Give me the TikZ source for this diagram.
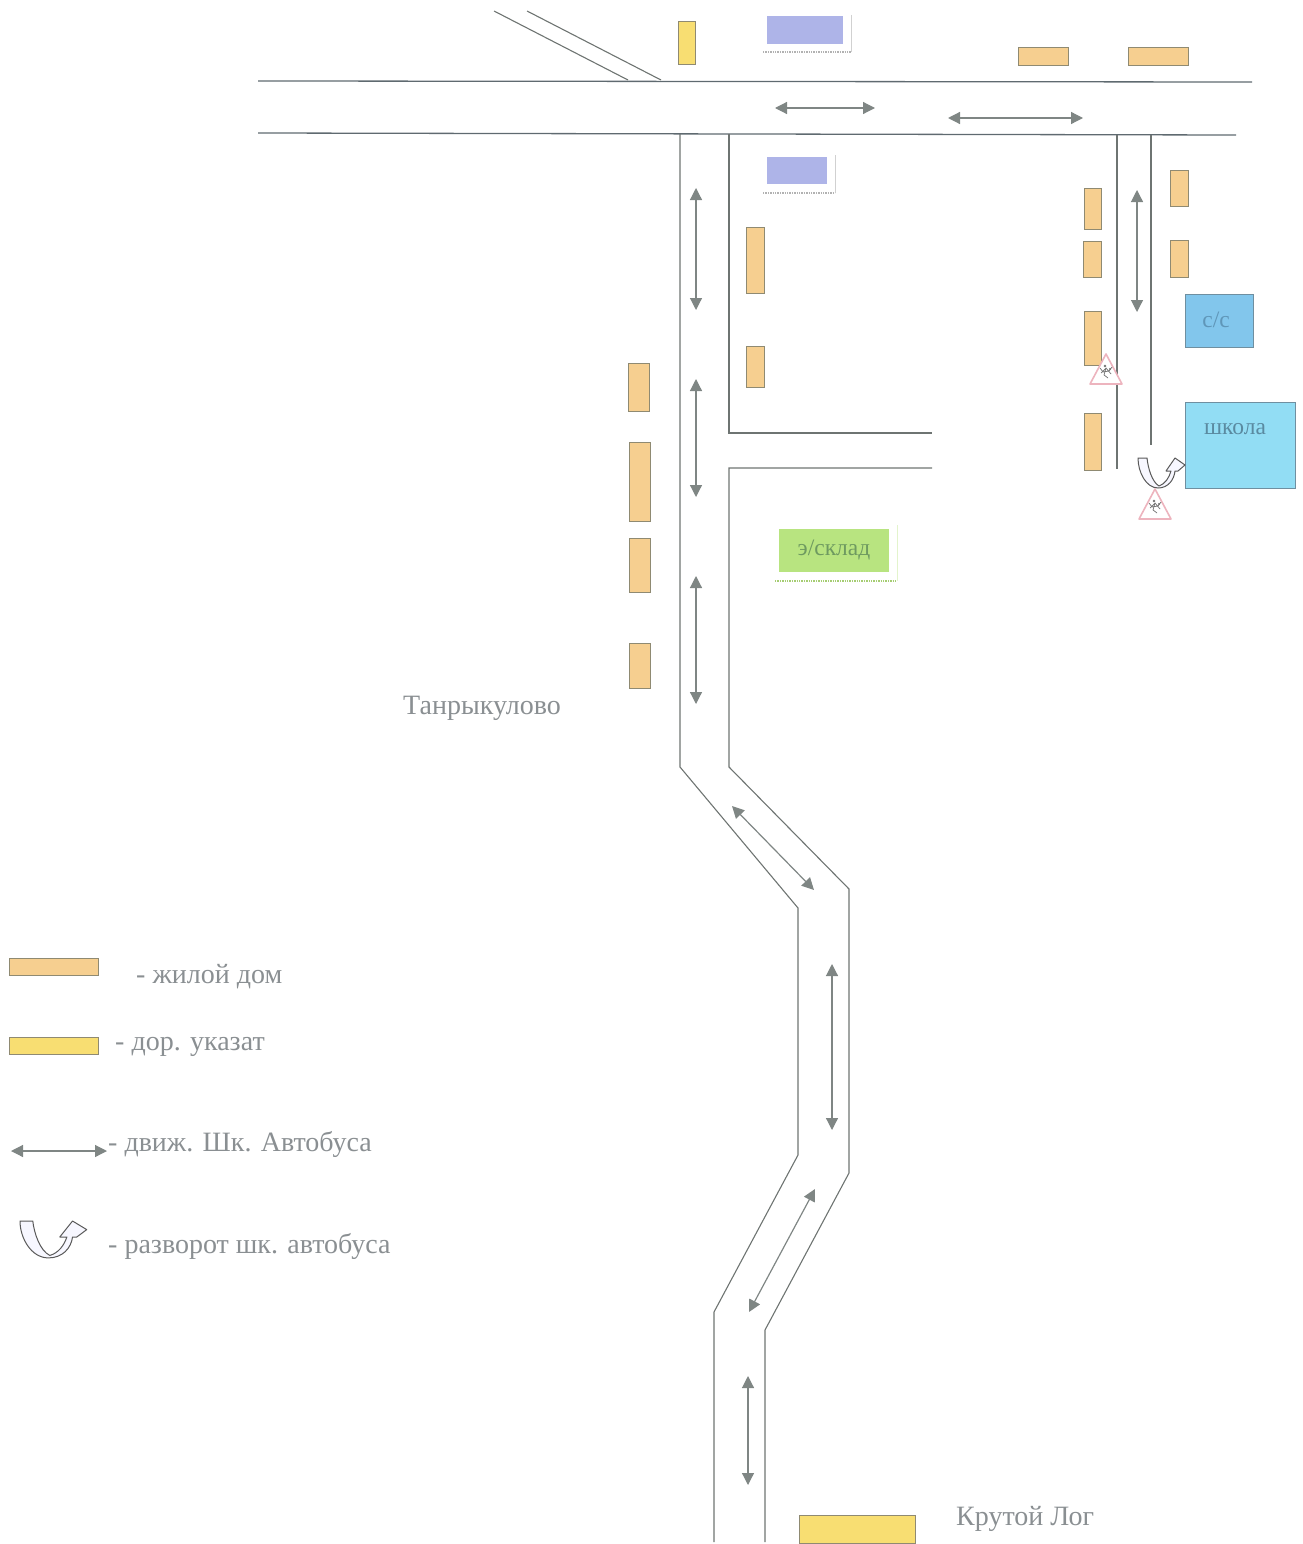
\documentclass[tikz,border=0pt]{standalone}
\usepackage{fontspec}
\setmainfont{Liberation Serif}
\usetikzlibrary{arrows.meta}
\definecolor{roadc}{HTML}{6E7472}
\definecolor{topc}{HTML}{5F6A70}
\definecolor{arrowc}{HTML}{7F8684}
\definecolor{txtc}{HTML}{8A8F92}
\definecolor{housef}{HTML}{F6CF90}
\definecolor{housed}{HTML}{8F8A72}
\definecolor{signf}{HTML}{F8DE72}
\definecolor{bluef}{HTML}{AEB4E8}
\definecolor{ccf}{HTML}{82C6EC}
\definecolor{schoolf}{HTML}{92DDF4}
\definecolor{greenf}{HTML}{B8E480}
\definecolor{edgeb}{HTML}{6F8FA0}
\definecolor{warnc}{HTML}{EDB4BE}
\definecolor{cctext}{HTML}{5F96B8}
\definecolor{schooltext}{HTML}{5A8AA0}
\definecolor{skladtext}{HTML}{6E9A60}
\tikzset{
  x=1pt,y=-1pt,
  road/.style={draw=roadc,line width=1.1pt,line join=miter},
  mainroad/.style={draw=topc,line width=1.3pt},
  housebox/.style={draw=housed,line width=1pt,fill=housef,rectangle,inner sep=0pt,anchor=north west},
  signbox/.style={draw=housed,line width=1pt,fill=signf,rectangle,inner sep=0pt,anchor=north west},
  bluebox/.style={fill=bluef,rectangle,inner sep=0pt,anchor=north west},
  ghost/.style={draw=black!18,line width=1pt},
  ghostb/.style={draw=black!30,line width=1.4pt,densely dotted},
  bus/.style={draw=arrowc,line width=1.2pt,{Triangle[width=12pt,length=12pt,fill=arrowc]}-{Triangle[width=12pt,length=12pt,fill=arrowc]}},
  lab/.style={anchor=base west,inner sep=0pt,text=txtc,font=\fontsize{28}{32}\selectfont},
  inlab/.style={inner sep=0pt,font=\fontsize{23.5}{27}\selectfont},
  uturn/.style={draw=black!65,line width=1pt,fill=blue!3,line join=round},
  warn/.style={draw=warnc,line width=1.6pt,fill=white,line join=round},
  warnfig/.style={draw=black!55,line width=.7pt}
}
\newcommand{\mybox}[6]{\node[#1,minimum width=#5-#3,minimum height=#6-#4] (#2) at (#3,#4) {};}
\newcommand{\uturnshape}[3]{%
  \begin{scope}[shift={(#1)},xscale=#2,yscale=#3]
    \path[uturn] (0,0) -- (9,0) .. controls (10,10) and (14,24) .. (21,28)
      .. controls (27,26) and (31,20) .. (33,13) -- (28,13) -- (37,0) -- (47,7) -- (40,13) -- (37,13)
      .. controls (36,22) and (30,30) .. (20,30)
      .. controls (8,30) and (0,14) .. (0,0) -- cycle;
  \end{scope}}
\newcommand{\warnsign}[1]{%
  \begin{scope}[shift={(#1)}]
    \path[warn] (0,0) -- (16,30) -- (-16,30) -- cycle;
    \draw[warnfig] (-5,19) -- (0,14) -- (5,20) (0,14) -- (-2,21) -- (2,24) (-6,14) -- (-3,18) -- (3,17) -- (6,13);
    \fill[black!55] (-1,12) circle (1.3pt) (4,15) circle (1.1pt);
  \end{scope}}
\begin{document}
\begin{tikzpicture}
\useasboundingbox (0,0) rectangle (1303,1544);
% roads
\draw[mainroad] (258,81) -- (1252,82);
\draw[mainroad] (258,133) -- (1236,135);
\draw[road] (494,11) -- (628,80);
\draw[road] (527,11) -- (661,80);
\draw[road] (680,134) -- (680,767) -- (798,908) -- (798,1155) -- (714,1312) -- (714,1542);
\draw[road] (729,134) -- (729,433) -- (932,433);
\draw[road] (932,468) -- (729,468) -- (729,767) -- (849,889) -- (849,1173) -- (765,1330) -- (765,1542);
\draw[road] (1117,135) -- (1117,469);
\draw[road] (1151,135) -- (1151,445);
% houses
\mybox{signbox}{s1}{678}{21}{695}{64}
\mybox{housebox}{h1}{1018}{47}{1068}{65}
\mybox{housebox}{h2}{1128}{47}{1188}{65}
\mybox{housebox}{h3}{746}{227}{764}{293}
\mybox{housebox}{h4}{746}{346}{764}{387}
\mybox{housebox}{h5}{628}{363}{649}{411}
\mybox{housebox}{h6}{629}{442}{650}{521}
\mybox{housebox}{h7}{629}{538}{650}{592}
\mybox{housebox}{h8}{629}{643}{650}{688}
\mybox{housebox}{h9}{1084}{188}{1101}{229}
\mybox{housebox}{h10}{1083}{241}{1101}{277}
\mybox{housebox}{h11}{1084}{311}{1101}{365}
\mybox{housebox}{h12}{1084}{413}{1101}{470}
\mybox{housebox}{h13}{1170}{170}{1188}{206}
\mybox{housebox}{h14}{1170}{240}{1188}{277}
\mybox{signbox}{s2}{799}{1515}{915}{1543}
\mybox{housebox}{lh}{9}{958}{98}{975}
\mybox{signbox}{ls}{9}{1037}{98}{1054}
% blue blocks with their shadow edges
\mybox{bluebox}{b1}{767}{16}{843}{44}
\draw[ghost] (851,15) -- (851,52);
\draw[ghostb] (763,52) -- (851,52);
\mybox{bluebox}{b2}{767}{157}{827}{184}
\draw[ghost] (835,155) -- (835,193);
\draw[ghostb] (763,193) -- (835,193);
% green block
\node[fill=greenf,inner sep=0pt,minimum width=110,minimum height=43,text=skladtext,inlab] (sklad) at (834,550.5) {э/склад};
\draw[draw=greenf!40,line width=1pt] (897,525) -- (897,581);
\draw[draw=greenf!90!black,line width=1.4pt,densely dotted] (775,581) -- (897,581);
% school and c/c
\node[draw=edgeb,line width=1pt,fill=ccf,inner sep=0pt,minimum width=68,minimum height=53] (cc) at (1219,320.5) {};
\node[inner sep=0pt,text=cctext,inlab] (cct) at (1216,320) {с/с};
\node[draw=edgeb,line width=1pt,fill=schoolf,inner sep=0pt,minimum width=110,minimum height=86] (school) at (1240,445) {};
\node[inner sep=0pt,text=schooltext,inlab] (schoolt) at (1235,429) {школа};
% bus arrows
\foreach \n/\ax/\ay/\bx/\by in {a/775/108/875/108, c/948/118/1083/118, e/696/188/696/310, g/696/379/696/497,
    i/696/576/696/704, k/732/806/814/890, m/832/964/832/1130, o/815/1189/749/1312,
    q/748/1376/748/1485, s/1137/190/1137/312, u/11/1151/107/1151}{
  \coordinate (\n1) at (\ax,\ay);
  \coordinate (\n2) at (\bx,\by);
  \draw[bus] (\n1) -- (\n2);
}
% signs and u-turn
\warnsign{1106,354}
\uturnshape{1138,458}{1}{1}
\warnsign{1155,489}
\uturnshape{20,1221}{1.42}{1.23}
% labels
\node[lab] (t1) at (403,714) {Танрыкулово};
\node[lab] (t2) at (956,1525) {Крутой Лог};
\node[lab] (l1) at (136,983) {- жилой дом};
\node[lab] (l2) at (115,1050) {- дор. указат};
\node[lab] (l3) at (108,1151) {- движ. Шк. Автобуса};
\node[lab] (l4) at (108,1253) {- разворот шк. автобуса};
\end{tikzpicture}
\end{document}
